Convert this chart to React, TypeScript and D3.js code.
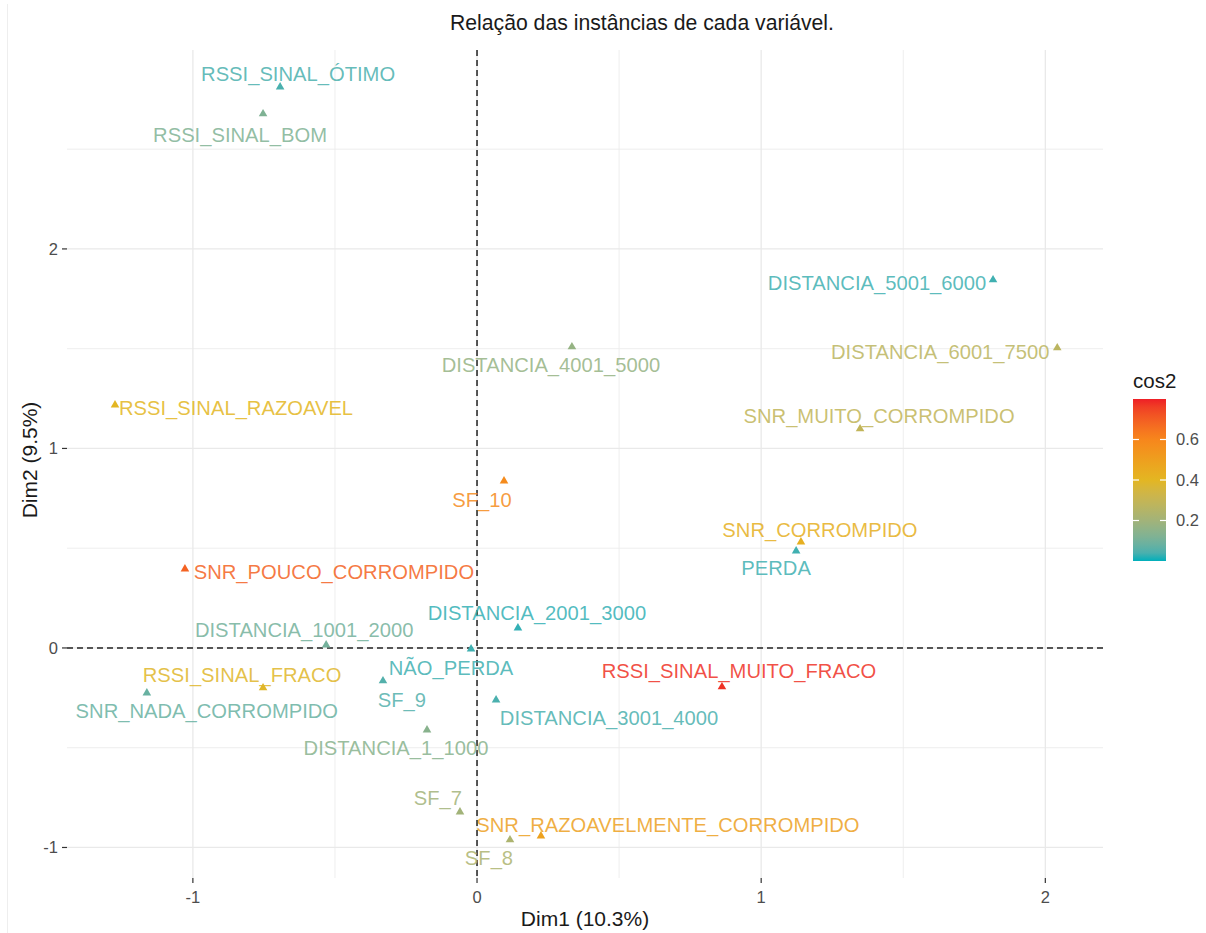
import React from "react";
import * as d3 from "d3";

// Category coordinates on the first two dimensions, with their quality of representation (cos2)
const categories = [
  "RSSI_SINAL_ÓTIMO",
  "RSSI_SINAL_BOM",
  "DISTANCIA_5001_6000",
  "DISTANCIA_6001_7500",
  "DISTANCIA_4001_5000",
  "RSSI_SINAL_RAZOAVEL",
  "SNR_MUITO_CORROMPIDO",
  "SF_10",
  "SNR_CORROMPIDO",
  "PERDA",
  "SNR_POUCO_CORROMPIDO",
  "DISTANCIA_2001_3000",
  "DISTANCIA_1001_2000",
  "NÃO_PERDA",
  "SF_9",
  "RSSI_SINAL_FRACO",
  "SNR_NADA_CORROMPIDO",
  "RSSI_SINAL_MUITO_FRACO",
  "DISTANCIA_3001_4000",
  "DISTANCIA_1_1000",
  "SF_7",
  "SF_8",
  "SNR_RAZOAVELMENTE_CORROMPIDO",
];

const dim1 = [
  -0.693, -0.753, 1.816, 2.042, 0.334, -1.274, 1.348, 0.095, 1.14, 1.123, -1.028, 0.144,
  -0.531, -0.021, -0.331, -0.753, -1.162, 0.862, 0.067, -0.176, -0.06, 0.116, 0.225,
];

const dim2 = [
  2.812, 2.677, 1.845, 1.504, 1.509, 1.218, 1.098, 0.837, 0.531, 0.486, 0.396, 0.1,
  0.015, -0.005, -0.165, -0.2, -0.226, -0.195, -0.261, -0.411, -0.822, -0.962, -0.942,
];

const cos2 = [
  0.04, 0.12, 0.03, 0.27, 0.17, 0.4, 0.29, 0.58, 0.43, 0.03, 0.69, 0.02,
  0.1, 0.03, 0.05, 0.39, 0.08, 0.78, 0.04, 0.14, 0.2, 0.23, 0.49,
];

const xTicks = [-1, 0, 1, 2];
const yTicks = [-1, 0, 1, 2];
const xMinor = [-0.5, 0.5, 1.5];
const yMinor = [-0.5, 0.5, 1.5, 2.5];
const legendTicks = [0.2, 0.4, 0.6];

// Repelled label placement: offset of each label (centre, baseline) from its point, in px
const labelOffsets: [number, number][] = [
  [18, -6],
  [-23, 28],
  [-116, 10],
  [-117, 11],
  [-21, 25],
  [121, 10],
  [19, -6],
  [-22, 26],
  [19, -5],
  [-20, 24],
  [149, 10],
  [19, -8],
  [-22, -8],
  [-20, 26],
  [19, 26],
  [-21, -6],
  [60, 25],
  [17, -9],
  [113, 25],
  [-31, 25],
  [-22, -7],
  [-21, 25],
  [127, -4],
];

const W = 1206;
const H = 933;
const panel = { left: 67, right: 1103, top: 50, bottom: 878 };
const FONT = "'Liberation Sans', Arial, Helvetica, sans-serif";

const x = d3.scaleLinear().domain([-1.443, 2.203]).range([panel.left, panel.right]);
const y = d3.scaleLinear().domain([-1.153, 2.997]).range([panel.bottom, panel.top]);

const color = d3
  .scaleLinear<string>()
  .domain([0, 0.4, 0.6, 0.8])
  .range(["#00AFBB", "#E3B622", "#F7861C", "#EE1F26"])
  .interpolate(d3.interpolateLab)
  .clamp(true);

const legend = { x: 1133, top: 399, bottom: 561, width: 33 };
const legendScale = d3.scaleLinear().domain([0, 0.8]).range([legend.bottom, legend.top]);

const triangle = d3.symbol().type(d3.symbolTriangle).size(32)();

export default function App() {
  const gradStops = d3.range(0, 1.0001, 0.05).map((t) => ({
    offset: t,
    color: color(t * 0.8),
  }));

  return (
    <svg
      width={W}
      height={H}
      style={{ position: "absolute", left: 0, top: 0, background: "#fff" }}
      fontFamily={FONT}
    >
      <defs>
        <linearGradient id="cos2grad" x1="0" y1="1" x2="0" y2="0">
          {gradStops.map((s, i) => (
            <stop key={i} offset={s.offset} stopColor={s.color} />
          ))}
        </linearGradient>
      </defs>
      <rect x={0} y={0} width={W} height={H} fill="#fff" />
      <line x1={7.5} x2={7.5} y1={4} y2={H} stroke="#eeeeee" strokeWidth={1} />

      {/* grid */}
      <g>
        {xMinor.map((v) => (
          <line key={"xm" + v} x1={x(v)} x2={x(v)} y1={panel.top} y2={panel.bottom} stroke="#ececec" strokeWidth={0.9} />
        ))}
        {yMinor.map((v) => (
          <line key={"ym" + v} x1={panel.left} x2={panel.right} y1={y(v)} y2={y(v)} stroke="#ececec" strokeWidth={0.9} />
        ))}
        {xTicks.map((v) => (
          <line key={"xg" + v} x1={x(v)} x2={x(v)} y1={panel.top} y2={panel.bottom} stroke="#e9e9e9" strokeWidth={1.3} />
        ))}
        {yTicks.map((v) => (
          <line key={"yg" + v} x1={panel.left} x2={panel.right} y1={y(v)} y2={y(v)} stroke="#e9e9e9" strokeWidth={1.3} />
        ))}
      </g>

      {/* reference lines */}
      <line x1={x(0)} x2={x(0)} y1={panel.top} y2={panel.bottom} stroke="#222" strokeWidth={1.5} strokeDasharray="6,4" />
      <line x1={panel.left} x2={panel.right} y1={y(0)} y2={y(0)} stroke="#222" strokeWidth={1.5} strokeDasharray="6,4" />

      {/* axes */}
      <g fill="#4d4d4d" fontSize={16.5}>
        {xTicks.map((v) => (
          <g key={"xt" + v}>
            <line x1={x(v)} x2={x(v)} y1={panel.bottom} y2={panel.bottom + 5} stroke="#333" strokeWidth={1.2} />
            <text x={x(v)} y={panel.bottom + 25} textAnchor="middle">
              {v}
            </text>
          </g>
        ))}
        {yTicks.map((v) => (
          <g key={"yt" + v}>
            <line x1={panel.left - 5} x2={panel.left} y1={y(v)} y2={y(v)} stroke="#333" strokeWidth={1.2} />
            <text x={panel.left - 9} y={y(v)} dy="0.35em" textAnchor="end">
              {v}
            </text>
          </g>
        ))}
      </g>
      <text x={(panel.left + panel.right) / 2} y={926} textAnchor="middle" fontSize={21} fill="#1a1a1a">
        Dim1 (10.3%)
      </text>
      <text
        transform={`translate(37,${(panel.top + panel.bottom) / 2 - 4}) rotate(-90)`}
        textAnchor="middle"
        fontSize={21}
        fill="#1a1a1a"
      >
        Dim2 (9.5%)
      </text>

      {/* title */}
      <text x={450} y={30} fontSize={21.2} fill="#1a1a1a">
        Relação das instâncias de cada variável.
      </text>

      {/* points */}
      <g>
        {categories.map((c, i) => (
          <path key={"p" + c} d={triangle ?? ""} transform={`translate(${x(dim1[i])},${y(dim2[i])})`} fill={color(cos2[i])} />
        ))}
      </g>

      {/* labels */}
      <g fontSize={20.2}>
        {categories.map((c, i) => (
          <text
            key={"l" + c}
            x={x(dim1[i]) + labelOffsets[i][0]}
            y={y(dim2[i]) + labelOffsets[i][1]}
            textAnchor="middle"
            fill={color(cos2[i])}
            fillOpacity={0.85}
          >
            {c}
          </text>
        ))}
      </g>

      {/* legend */}
      <text x={legend.x} y={388} fontSize={20.5} fill="#1a1a1a">
        cos2
      </text>
      <rect x={legend.x} y={legend.top} width={legend.width} height={legend.bottom - legend.top} fill="url(#cos2grad)" />
      {legendTicks.map((v) => (
        <g key={"lt" + v}>
          <line x1={legend.x} x2={legend.x + 6} y1={legendScale(v)} y2={legendScale(v)} stroke="#fff" strokeWidth={1.2} />
          <line
            x1={legend.x + legend.width - 6}
            x2={legend.x + legend.width}
            y1={legendScale(v)}
            y2={legendScale(v)}
            stroke="#fff"
            strokeWidth={1.2}
          />
          <text x={legend.x + legend.width + 10} y={legendScale(v)} dy="0.35em" fontSize={16.5} fill="#4d4d4d">
            {v.toFixed(1)}
          </text>
        </g>
      ))}
    </svg>
  );
}
